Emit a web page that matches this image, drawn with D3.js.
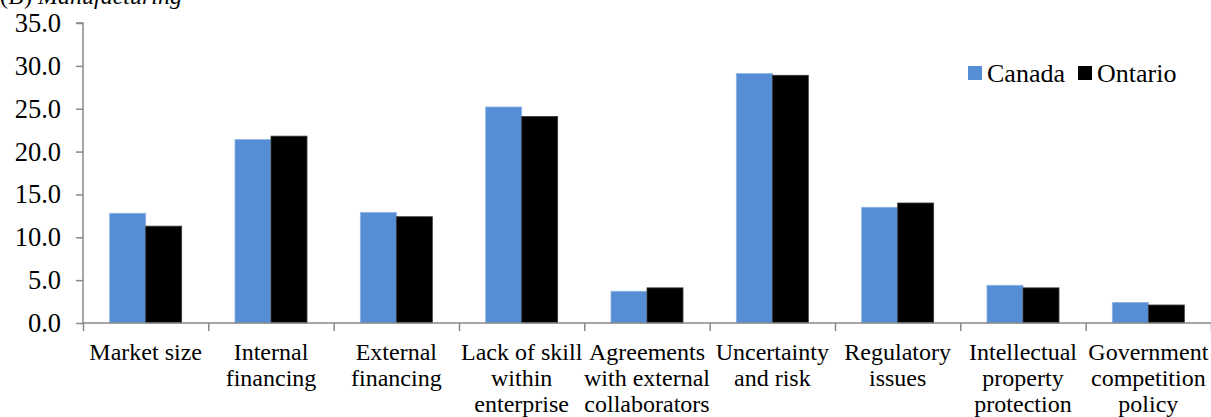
<!DOCTYPE html>
<html><head><meta charset="utf-8">
<script src="https://cdn.jsdelivr.net/npm/d3@7"></script>
<style>body{margin:0;background:#fff}svg{display:block}</style>
</head><body>
<svg id="c" width="1211" height="417"></svg>
<script>
const categories = [
  ["Market size"],
  ["Internal", "financing"],
  ["External", "financing"],
  ["Lack of skill", "within", "enterprise"],
  ["Agreements", "with external", "collaborators"],
  ["Uncertainty", "and risk"],
  ["Regulatory", "issues"],
  ["Intellectual", "property", "protection"],
  ["Government", "competition", "policy"]
];
const canada  = [12.8, 21.4, 12.9, 25.2, 3.7, 29.1, 13.5, 4.4, 2.4];
const ontario = [11.3, 21.8, 12.4, 24.1, 4.1, 28.9, 14.0, 4.1, 2.1];
const seriesNames = ["Canada", "Ontario"];
const seriesColors = ["#558ED5", "#000000"];
const yTicks = [0, 5, 10, 15, 20, 25, 30, 35];

(function () {
const FONT = '"Liberation Serif"';
const svg = d3.select("#c");
const mLeft = 83, mRight = 1211, mTop = 23, mBottom = 323;
const idx = categories.map((d, i) => i);
const x0 = d3.scaleBand().domain(idx).range([mLeft, mRight]).padding(0);
const step = x0.step();
const x1 = d3.scaleBand().domain([0, 1]).range([step * 0.2128, step * 0.2128 + 72]).padding(0);
const y = d3.scaleLinear().domain([0, 35]).range([mBottom, mTop]);
const axisColor = "#898989";

// title
const t = svg.append("text").attr("x", 0).attr("y", 4).style("font-size", "24px").style("font-family", FONT);
t.append("tspan").text("(B) ");
t.append("tspan").style("font-style", "italic").text("Manufacturing");

// bars
const data = [canada, ontario];
const g = svg.append("g");
idx.forEach(i => {
  data.forEach((s, k) => {
    g.append("rect")
      .attr("x", x0(i) + x1(k))
      .attr("y", y(s[i]))
      .attr("width", x1.bandwidth())
      .attr("height", y(0) - y(s[i]))
      .attr("fill", seriesColors[k])
      .attr("stroke", k === 0 ? "#8DB3E2" : "#3a3a3a")
      .attr("stroke-width", 0.8);
  });
});

// y axis
const yAxis = d3.axisLeft(y).tickValues(yTicks).tickFormat(d3.format(".1f")).tickSize(7).tickPadding(15);
const ga = svg.append("g").attr("transform", `translate(${mLeft},0)`).call(yAxis);
ga.select(".domain").attr("stroke", axisColor).attr("stroke-width", 1.5).attr("d", `M-7,${mTop}H0V${mBottom}`);
ga.selectAll(".tick line").attr("stroke", axisColor).attr("stroke-width", 1.5);
ga.selectAll(".tick text").style("font-size", "26.5px").style("font-family", FONT).attr("fill", "#000");

// x axis
const xLin = d3.scaleLinear().domain([0, categories.length]).range([mLeft, mRight]);
const xAxis = d3.axisBottom(xLin).tickValues(d3.range(0, categories.length + 1)).tickSize(8).tickFormat("");
const gx = svg.append("g").attr("transform", `translate(0,${mBottom})`).call(xAxis);
gx.select(".domain").attr("stroke", axisColor).attr("stroke-width", 1.5).attr("d", `M${mLeft},0H${mRight}`);
gx.selectAll(".tick line").attr("stroke", axisColor).attr("stroke-width", 1.5);

// x labels
const xl = svg.append("g");
idx.forEach(i => {
  const tx = xl.append("text").attr("text-anchor", "middle").style("font-size", "24px").style("font-family", FONT)
    .attr("x", x0(i) + step / 2).attr("y", 360);
  categories[i].forEach((line, j) => {
    tx.append("tspan").attr("x", x0(i) + step / 2).attr("dy", j === 0 ? 0 : 26.2).text(line);
  });
});

// legend
const legX = [968, 1078];
seriesNames.forEach((n, k) => {
  svg.append("rect").attr("x", legX[k]).attr("y", 66).attr("width", 14).attr("height", 14).attr("fill", seriesColors[k]);
  svg.append("text").attr("x", legX[k] + 19).attr("y", 82).style("font-size", "26px").style("font-family", FONT).text(n);
});
})();
</script>
</body></html>
